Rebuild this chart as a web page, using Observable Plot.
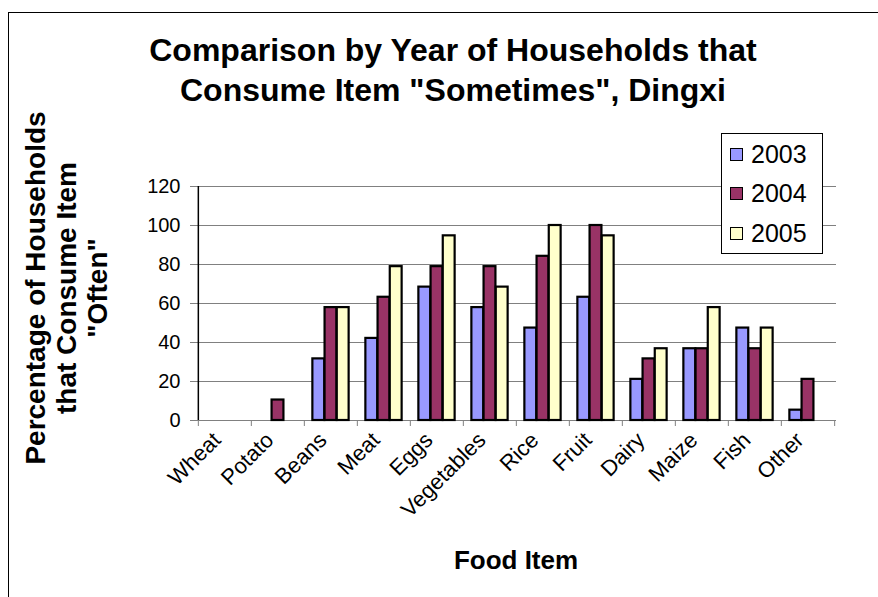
<!DOCTYPE html>
<html>
<head>
<meta charset="utf-8">
<script src="https://cdn.jsdelivr.net/npm/d3@7"></script>
<script src="https://cdn.jsdelivr.net/npm/@observablehq/plot@0.6"></script>
<style>
  html, body { margin: 0; padding: 0; background: #fff; }
  #wrap { position: relative; width: 878px; height: 597px; overflow: hidden; background: #fff;
          font-family: "Liberation Sans", Arial, sans-serif; color: #000; }
  #frame { position: absolute; left: 8px; top: 12px; width: 940px; height: 700px; border: 1.5px solid #000; }
  #title { position: absolute; left: 0; top: 30px; width: 906px; text-align: center;
           font-weight: bold; font-size: 32px; line-height: 40px; }
  #ytitle { position: absolute; left: 66px; top: 288px; width: 500px; margin-left: -250px;
            transform: translateY(-50%) rotate(-90deg); text-align: center;
            font-weight: bold; font-size: 28px; line-height: 31px; }
  #xtitle { position: absolute; left: 316px; width: 400px; top: 545px; text-align: center;
            font-weight: bold; font-size: 26px; }
  #chart { position: absolute; left: 0; top: 0; }
  #chart svg text { font-size: 20px !important; font-family: "Liberation Sans", Arial, sans-serif; fill: #000; }
  #chart svg g[aria-label="x-axis tick label"] text { font-size: 22px !important; }
  #legend { position: absolute; left: 721px; top: 133px; width: 100px; height: 119px;
            border: 1px solid #000; background: #fff; }
  .item { position: absolute; left: 8px; height: 40px; display: flex; align-items: center; font-size: 25px; }
  .sw { width: 11px; height: 11px; border: 1.5px solid #000; margin-right: 8px; }
</style>
</head>
<body>
<div id="wrap">
  <div id="frame"></div>
  <div id="chart"></div>
  <div id="title">Comparison by Year of Households that<br>Consume Item "Sometimes", Dingxi</div>
  <div id="ytitle">Percentage of Households<br>that Consume Item<br>"Often"</div>
  <div id="xtitle">Food Item</div>
  <div id="legend"></div>
</div>
<script>
const foods = ["Wheat", "Potato", "Beans", "Meat", "Eggs", "Vegetables", "Rice", "Fruit", "Dairy", "Maize", "Fish", "Other"];
const years = ["2003", "2004", "2005"];
const values2003 = [0, 0, 31.6, 42.1, 68.4, 57.9, 47.4, 63.2, 21.1, 36.8, 47.4, 5.3];
const values2004 = [0, 10.5, 57.9, 63.2, 78.9, 78.9, 84.2, 100, 31.6, 36.8, 36.8, 21.1];
const values2005 = [0, 0, 57.9, 78.9, 94.7, 68.4, 100, 94.7, 36.8, 57.9, 47.4, 0];
const yTicks = [0, 20, 40, 60, 80, 100, 120];
const colors = ["#9999FF", "#993366", "#FFFFCC"];

const series = [values2003, values2004, values2005];
const data = years.flatMap((yr, j) => foods.map((f, i) => ({food: f, year: yr, value: series[j][i]})))
  .filter(d => d.value > 0);

const W = 878, H = 597, mL = 196, mR = 42, mT = 186, mB = 177;
const band = (W - mL - mR) / foods.length;
const barW = 12.2;
const inset = (band - barW) / 2;

const chart = Plot.plot({
  width: W, height: H,
  marginLeft: mL, marginRight: mR, marginTop: mT, marginBottom: mB,
  style: {fontFamily: "Liberation Sans, Arial, sans-serif", fontSize: "20px", background: "transparent", overflow: "visible", color: "#000"},
  x: {domain: foods, padding: 0, label: null},
  y: {domain: [0, 120], label: null},
  color: {domain: years, range: colors},
  marks: [
    Plot.gridY({ticks: yTicks, stroke: "#808080", strokeOpacity: 1, strokeWidth: 1.2}),
    ...years.map((yr, j) => Plot.barY(data.filter(d => d.year === yr), {
      x: "food", y: "value", fill: "year", stroke: "#000", strokeWidth: 2.2,
      dx: (j - 1) * barW, insetLeft: inset, insetRight: inset
    })),
    Plot.axisY({ticks: yTicks, tickSize: 6, tickPadding: 10, stroke: "#808080", strokeOpacity: 1, label: null}),
    Plot.axisX({tickSize: 6, dx: -band / 2, tickFormat: () => "", stroke: "#808080", strokeOpacity: 1, label: null}),
    Plot.axisX({ticks: [foods[foods.length - 1]], tickSize: 6, dx: band / 2, tickFormat: () => "", stroke: "#808080", strokeOpacity: 1, label: null}),
    Plot.axisX({tickSize: 0, tickRotate: -45, tickPadding: 12, dx: -8, dy: 4, label: null}),
    Plot.ruleX([foods[0]], {dx: -band / 2, y1: 0, y2: 120, stroke: "#000", strokeWidth: 1.5})
  ]
});
document.getElementById("chart").appendChild(chart);

const legend = d3.select("#legend");
years.forEach((yr, j) => {
  const item = legend.append("div").attr("class", "item").style("top", (j * 39.5) + "px");
  item.append("div").attr("class", "sw").style("background", colors[j]);
  item.append("span").text(yr);
});
</script>
</body>
</html>
